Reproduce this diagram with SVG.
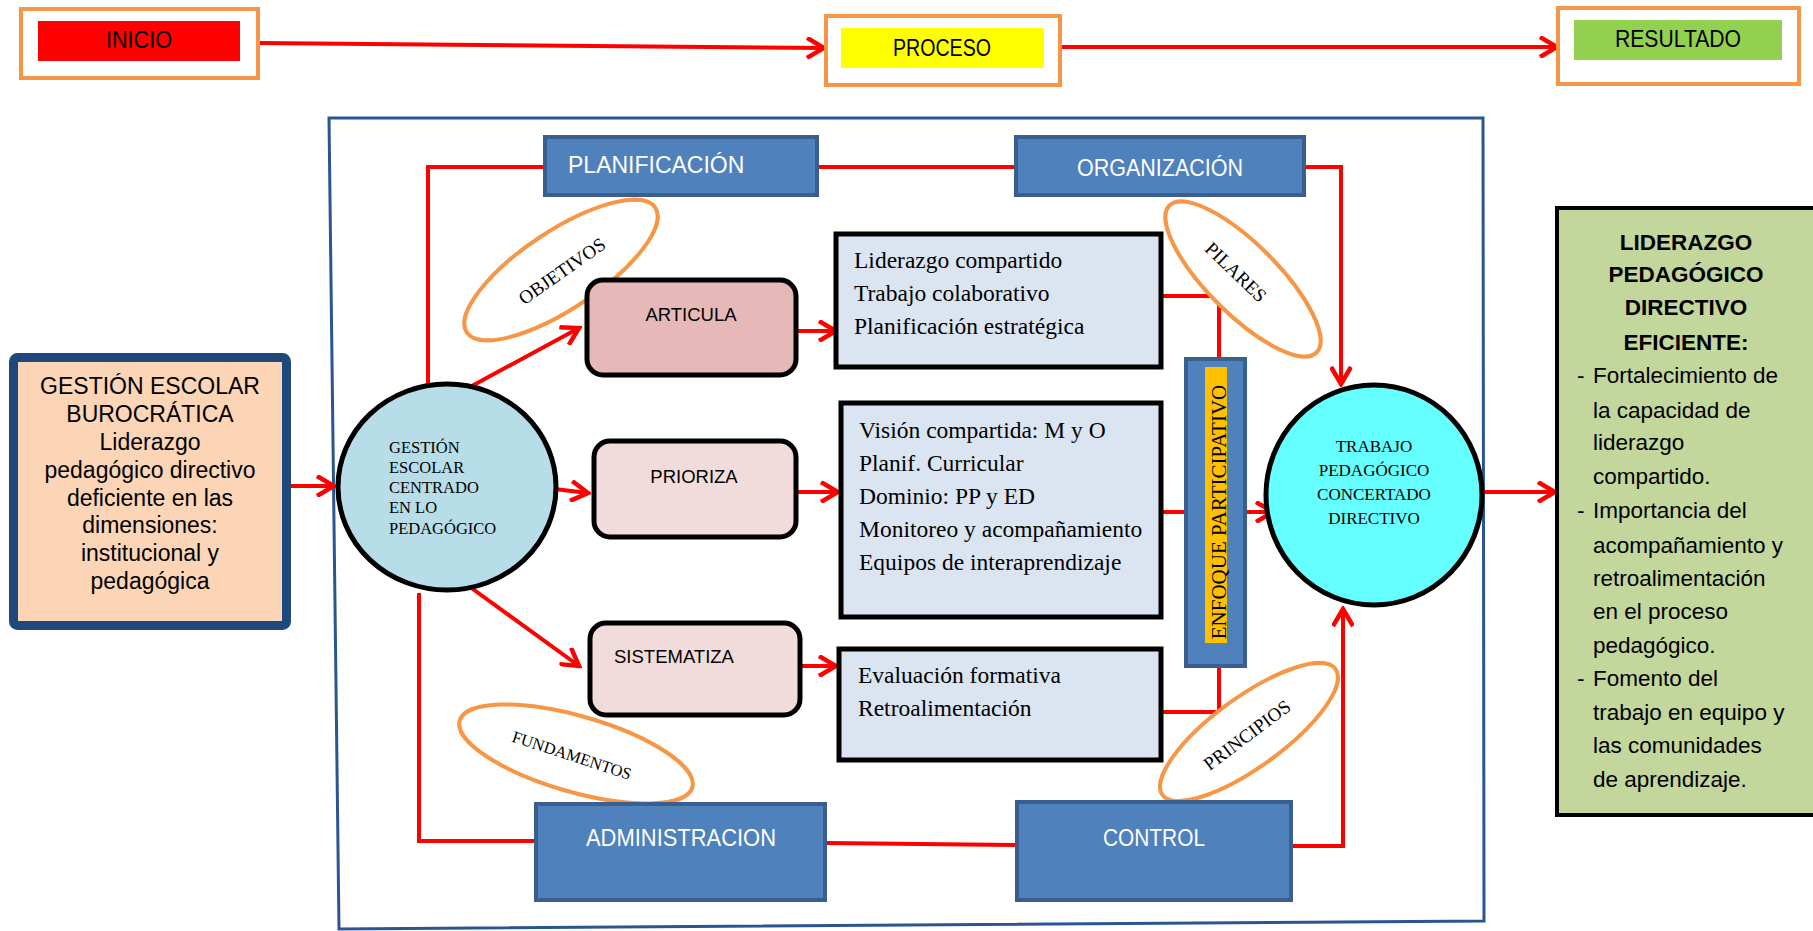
<svg xmlns="http://www.w3.org/2000/svg" width="1813" height="931" viewBox="0 0 1813 931">
<defs>
<style>
.ln{fill:none;stroke:#ff0000;stroke-width:4;stroke-linejoin:miter}
.ar{marker-end:url(#ah)}
.top{fill:#ffffff;stroke:#f79646;stroke-width:4}
.blue{fill:#4f81bd;stroke:#3a5f8f;stroke-width:4}
.pink{stroke:#000;stroke-width:5}
.lst{fill:#dbe5f1;stroke:#000;stroke-width:5}
.ell{fill:#ffffff;stroke:#f79646;stroke-width:4}
.sans{font-family:"Liberation Sans",Arial,sans-serif}
.serif{font-family:"Liberation Serif","Times New Roman",serif}
.wt{fill:#ffffff}
</style>
<marker id="ah" viewBox="0 0 22 22" refX="19" refY="11" markerWidth="22" markerHeight="22" markerUnits="userSpaceOnUse" orient="auto">
<path d="M2,1 L19,11 L2,21" fill="none" stroke="#ff0000" stroke-width="4.5"/>
</marker>
</defs>
<rect width="1813" height="931" fill="#ffffff"/>

<!-- frame -->
<polygon points="329,118 1483,118 1484,921 339,929" fill="none" stroke="#2b5592" stroke-width="3"/>

<g id="connectors">
<line class="ln ar" x1="258" y1="43" x2="824" y2="48"/>
<line class="ln ar" x1="1060" y1="47" x2="1557" y2="47"/>
<line class="ln ar" x1="291" y1="486" x2="334" y2="486"/>
<polyline class="ln" points="428,387 428,167 543,167"/>
<line class="ln" x1="819" y1="167" x2="1014" y2="167"/>
<polyline class="ln ar" points="1306,167 1341,167 1341,384"/>
<line class="ln ar" x1="470" y1="387" x2="579" y2="328"/>
<line class="ln ar" x1="546" y1="488" x2="588" y2="493"/>
<line class="ln ar" x1="470" y1="587" x2="579" y2="666"/>
<line class="ln ar" x1="798" y1="331" x2="836" y2="331"/>
<line class="ln ar" x1="798" y1="492" x2="838" y2="492"/>
<line class="ln ar" x1="802" y1="666" x2="836" y2="666"/>
<polyline class="ln" points="1163,296 1219,296 1219,358"/>
<line class="ln" x1="1163" y1="512" x2="1184" y2="512"/>
<polyline class="ln" points="1163,712 1219,712 1219,668"/>
<line class="ln ar" x1="1247" y1="512" x2="1273" y2="512"/>
<line class="ln ar" x1="1482" y1="492" x2="1555" y2="492"/>
<polyline class="ln" points="419,593 419,841 534,841"/>
<line class="ln" x1="827" y1="843" x2="1015" y2="845"/>
<polyline class="ln ar" points="1293,846 1343,846 1343,609"/>
</g>

<g id="inicio">
<rect class="top" x="21" y="9" width="237" height="69"/>
<rect x="38" y="21" width="202" height="40" fill="#ff0000"/>
<text class="sans" x="139" y="48" font-size="23" text-anchor="middle" textLength="66" lengthAdjust="spacingAndGlyphs">INICIO</text>
</g>
<g id="proceso">
<rect class="top" x="826" y="16" width="234" height="69"/>
<rect x="841" y="28" width="203" height="40" fill="#ffff00"/>
<text class="sans" x="942" y="56" font-size="23" text-anchor="middle" textLength="98" lengthAdjust="spacingAndGlyphs">PROCESO</text>
</g>
<g id="resultado">
<rect class="top" x="1558" y="8" width="241" height="76"/>
<rect x="1574" y="20" width="208" height="40" fill="#92d050"/>
<text class="sans" x="1678" y="47" font-size="23" text-anchor="middle" textLength="126" lengthAdjust="spacingAndGlyphs">RESULTADO</text>
</g>

<g id="burocratica">
<rect x="13.5" y="357.5" width="273" height="268" rx="4" fill="#fbd5b5" stroke="#1f497d" stroke-width="9"/>
<g class="sans" font-size="23" text-anchor="middle">
<text x="150" y="394">GESTIÓN ESCOLAR</text>
<text x="150" y="422">BUROCRÁTICA</text>
<text x="150" y="450">Liderazgo</text>
<text x="150" y="478">pedagógico directivo</text>
<text x="150" y="506">deficiente en las</text>
<text x="150" y="533">dimensiones:</text>
<text x="150" y="561">institucional y</text>
<text x="150" y="589">pedagógica</text>
</g>
</g>

<g id="gestion-centrado">
<ellipse cx="447" cy="487" rx="109" ry="103" fill="#b7dde8" stroke="#000" stroke-width="5"/>
<g class="serif" font-size="16.5">
<text x="389" y="453">GESTIÓN</text>
<text x="389" y="473">ESCOLAR</text>
<text x="389" y="493">CENTRADO</text>
<text x="389" y="513">EN LO</text>
<text x="389" y="534">PEDAGÓGICO</text>
</g>
</g>

<g id="planificacion">
<rect class="blue" x="545" y="137" width="272" height="58"/>
<text class="sans wt" x="568" y="173" font-size="23">PLANIFICACIÓN</text>
</g>
<g id="organizacion">
<rect class="blue" x="1016" y="137" width="288" height="58"/>
<text class="sans wt" x="1160" y="176" font-size="24" text-anchor="middle" textLength="166" lengthAdjust="spacingAndGlyphs">ORGANIZACIÓN</text>
</g>

<g id="objetivos">
<ellipse class="ell" cx="561" cy="270" rx="113" ry="39" transform="rotate(-33.5 561 270)"/>
<text class="serif" font-size="19" text-anchor="middle" transform="translate(562,271) rotate(-35)" y="6.5">OBJETIVOS</text>
</g>

<g id="articula">
<rect class="pink" x="587" y="280" width="209" height="95" rx="16" fill="#e6b9b8"/>
<text class="sans" x="691" y="321" font-size="18.5" text-anchor="middle">ARTICULA</text>
</g>
<g id="prioriza">
<rect class="pink" x="594" y="441" width="202" height="96" rx="16" fill="#f2dcdb"/>
<text class="sans" x="694" y="483" font-size="18.5" text-anchor="middle">PRIORIZA</text>
</g>
<g id="sistematiza">
<rect class="pink" x="590" y="623" width="210" height="92" rx="16" fill="#f2dcdb"/>
<text class="sans" x="674" y="663" font-size="18.5" text-anchor="middle">SISTEMATIZA</text>
</g>

<g id="liderazgo-lista">
<rect class="lst" x="836" y="234" width="325" height="133"/>
<g class="serif" font-size="23.5">
<text x="854" y="268">Liderazgo compartido</text>
<text x="854" y="301">Trabajo colaborativo</text>
<text x="854" y="334">Planificación estratégica</text>
</g>
</g>
<g id="vision-lista">
<rect class="lst" x="841" y="403" width="320" height="214"/>
<g class="serif" font-size="23.5">
<text x="859" y="438">Visión compartida: M y O</text>
<text x="859" y="471">Planif. Curricular</text>
<text x="859" y="504">Dominio: PP y ED</text>
<text x="859" y="537">Monitoreo y acompañamiento</text>
<text x="859" y="570">Equipos de interaprendizaje</text>
</g>
</g>
<g id="evaluacion-lista">
<rect class="lst" x="839" y="649" width="322" height="111"/>
<g class="serif" font-size="23.5">
<text x="858" y="683">Evaluación formativa</text>
<text x="858" y="716">Retroalimentación</text>
</g>
</g>

<g id="pilares">
<ellipse class="ell" cx="1243" cy="279" rx="104" ry="35" transform="rotate(45 1243 279)"/>
<text class="serif" font-size="19" text-anchor="middle" transform="translate(1236,272) rotate(44)" y="6.5">PILARES</text>
</g>

<g id="enfoque">
<rect class="blue" x="1186" y="359" width="59" height="307"/>
<rect x="1205" y="367" width="22" height="276" fill="#ffc000"/>
<text class="serif" font-size="21" text-anchor="middle" transform="translate(1226,512) rotate(-90)">ENFOQUE PARTICIPATIVO</text>
</g>

<g id="trabajo">
<ellipse cx="1374" cy="495" rx="108" ry="110" fill="#66ffff" stroke="#000" stroke-width="5"/>
<g class="serif" font-size="17" text-anchor="middle">
<text x="1374" y="452">TRABAJO</text>
<text x="1374" y="475.5">PEDAGÓGICO</text>
<text x="1374" y="499.5">CONCERTADO</text>
<text x="1374" y="523.5">DIRECTIVO</text>
</g>
</g>

<g id="fundamentos">
<ellipse class="ell" cx="576" cy="754" rx="121" ry="38" transform="rotate(16 576 754)"/>
<text class="serif" font-size="16.5" text-anchor="middle" transform="translate(572,755) rotate(18)" y="6">FUNDAMENTOS</text>
</g>
<g id="principios">
<ellipse class="ell" cx="1249" cy="732" rx="107" ry="35" transform="rotate(-36 1249 732)"/>
<text class="serif" font-size="19" text-anchor="middle" transform="translate(1247,735) rotate(-37)" y="6.5">PRINCIPIOS</text>
</g>

<g id="administracion">
<rect class="blue" x="536" y="804" width="289" height="96"/>
<text class="sans wt" x="681" y="846" font-size="24" text-anchor="middle" textLength="190" lengthAdjust="spacingAndGlyphs">ADMINISTRACION</text>
</g>
<g id="control">
<rect class="blue" x="1017" y="802" width="274" height="98"/>
<text class="sans wt" x="1154" y="846" font-size="24" text-anchor="middle" textLength="102" lengthAdjust="spacingAndGlyphs">CONTROL</text>
</g>

<g id="liderazgo-eficiente">
<rect x="1557" y="208" width="270" height="607" fill="#c3d69b" stroke="#000" stroke-width="4"/>
<g class="sans" font-size="22.5" font-weight="bold" text-anchor="middle">
<text x="1686" y="250">LIDERAZGO</text>
<text x="1686" y="282">PEDAGÓGICO</text>
<text x="1686" y="315">DIRECTIVO</text>
<text x="1686" y="350">EFICIENTE:</text>
</g>
<g class="sans" font-size="22.5">
<text x="1577" y="383">-</text>
<text x="1593" y="383">Fortalecimiento de</text>
<text x="1593" y="418">la capacidad de</text>
<text x="1593" y="450">liderazgo</text>
<text x="1593" y="484">compartido.</text>
<text x="1577" y="518">-</text>
<text x="1593" y="518">Importancia del</text>
<text x="1593" y="553">acompañamiento y</text>
<text x="1593" y="586">retroalimentación</text>
<text x="1593" y="619">en el proceso</text>
<text x="1593" y="653">pedagógico.</text>
<text x="1577" y="686">-</text>
<text x="1593" y="686">Fomento del</text>
<text x="1593" y="720">trabajo en equipo y</text>
<text x="1593" y="753">las comunidades</text>
<text x="1593" y="787">de aprendizaje.</text>
</g>
</g>
</svg>
